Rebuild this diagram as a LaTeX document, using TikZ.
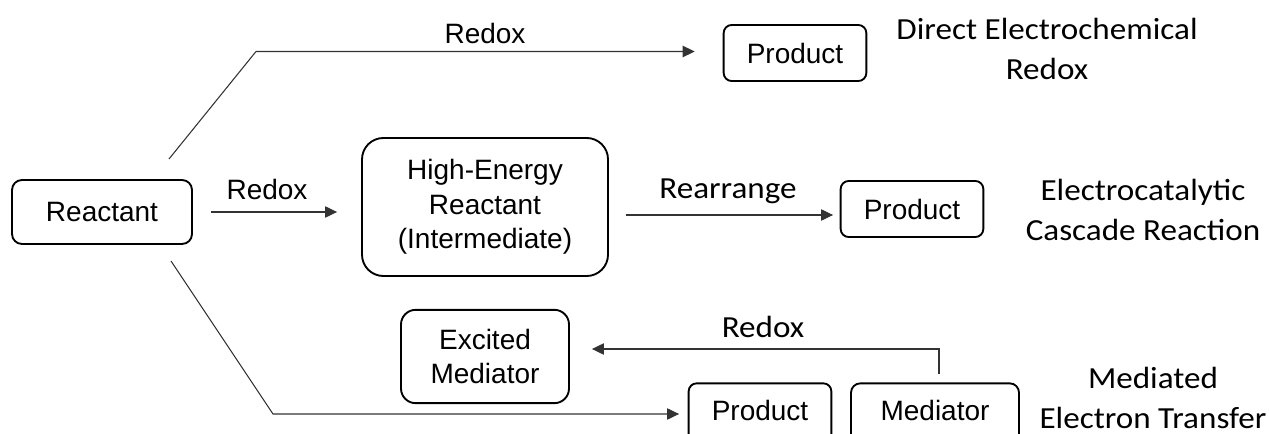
\documentclass[tikz,border=0pt]{standalone}
\usepackage{fontspec}
\setmainfont{Liberation Sans}
\newfontfamily\calib[FakeStretch=1.08]{Carlito}
\usetikzlibrary{arrows.meta,calc}
\tikzset{
  box/.style={draw, line width=1.4pt, rounded corners=#1, align=center, inner sep=0pt,
              font=\fontsize{21}{26}\selectfont},
  box/.default=7pt,
  conn/.style={draw=black!80, line width=0.8pt},
  arr/.style={conn, -{Triangle[length=9pt,width=8.5pt]}},
  lbl/.style={font=\fontsize{21}{26}\selectfont, inner sep=0pt},
  clbl/.style={font=\calib\fontsize{23}{30}\selectfont, inner sep=0pt, align=center}
}
\begin{document}
\begin{tikzpicture}[x=0.75pt, y=-0.75pt]
\useasboundingbox (0,0) rectangle (1269,434);
\clip (0,0) rectangle (1269,434);

% boxes
\node[box=7.5pt, minimum width=135pt, minimum height=48pt] (react) at (102,212) {Reactant};
\node[box=16pt, minimum width=184.5pt, minimum height=103.5pt] (high) at (485,207)
  {High-Energy\\Reactant\\(Intermediate)};
\node[box=6pt, minimum width=107pt, minimum height=42pt] (prodA) at (795,53) {Product};
\node[box=6pt, minimum width=107pt, minimum height=42pt] (prodB) at (912,209) {Product};
\node[box=11pt, minimum width=126pt, minimum height=70pt] (exmed) at (485,356.5)
  {Excited\\Mediator};
\node[box=6pt, minimum width=107pt, minimum height=46pt] (prodC) at (760,414) {};
\node[lbl, anchor=base] at (760,420) {Product};
\node[box=7pt, minimum width=126pt, minimum height=46pt] (medi) at (935,414) {};
\node[lbl, anchor=base] at (935,420) {Mediator};

% branch corners
\coordinate (ta) at (169,159);
\coordinate (tb) at (256,51.5);
\coordinate (ba) at (171,261);
\coordinate (bb) at (273,414);

% connectors
\draw[arr] (ta) -- (tb) -- (tb -| prodA.west)
  [shorten >=21pt];
\draw[arr, shorten <=13.5pt, shorten >=18pt] (react.east) -- (react.east -| high.west);
\draw[arr, shorten <=12.5pt, shorten >=5pt] (high.east |- 0,215) -- (prodB.west |- 0,215);
\draw[arr] (ba) -- (bb) -- (bb -| prodC.west) [shorten >=6.5pt];
\draw[arr, shorten <=6pt, shorten >=16.5pt] (medi.north -| 939,0) -- (939,349) -- (exmed.east |- 0,349);

% arrow labels
\node[lbl] at (485,33) {Redox};
\node[lbl] at (267,189) {Redox};
\node[clbl] at (728,191) {Rearrange};
\node[clbl] at (763,327) {Redox};

% pathway names
\node[clbl] at (1047,49) {Direct Electrochemical\\Redox};
\node[clbl] at (1143,210) {Electrocatalytic\\Cascade Reaction};
\node[clbl] at (1153,398) {Mediated\\Electron Transfer};
\end{tikzpicture}
\end{document}
